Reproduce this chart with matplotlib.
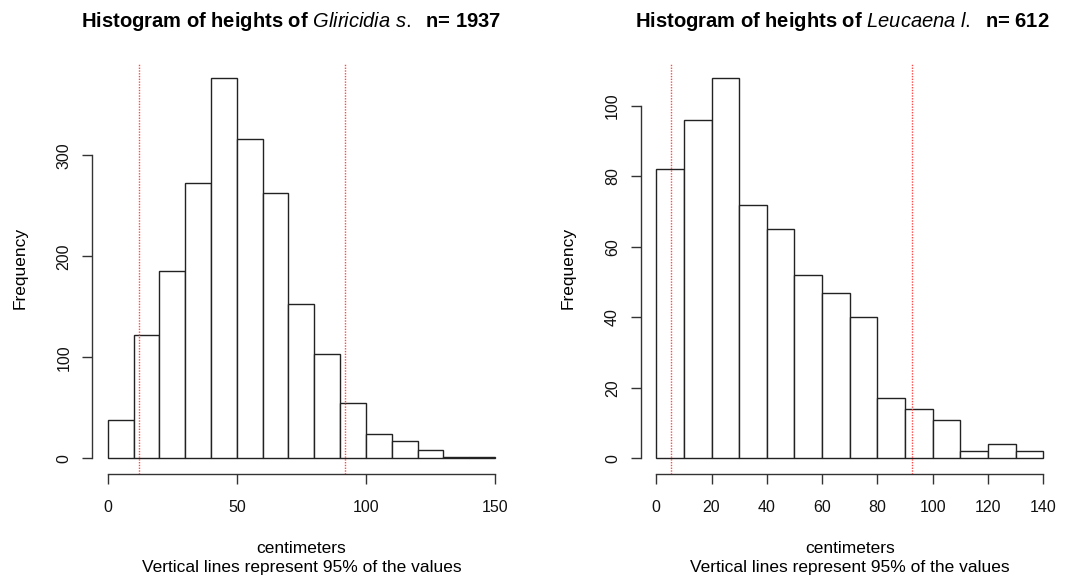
import matplotlib
matplotlib.use("Agg")
import matplotlib.pyplot as plt
import numpy as np

plt.rcParams['font.family'] = ['Liberation Sans', 'DejaVu Sans']
plt.rcParams['mathtext.fontset'] = 'custom'
plt.rcParams['mathtext.it'] = 'Liberation Sans:italic'
plt.rcParams['mathtext.rm'] = 'Liberation Sans'

# Data
gli_edges = [0, 10, 20, 30, 40, 50, 60, 70, 80, 90, 100, 110, 120, 130, 140, 150]
gli_counts = [38, 122, 186, 273, 377, 316, 263, 153, 103, 55, 24, 17, 8, 1, 1]
gli_lines = [12, 92]
gli_xticks = [0, 50, 100, 150]
gli_yticks = [0, 100, 200, 300]

leu_edges = [0, 10, 20, 30, 40, 50, 60, 70, 80, 90, 100, 110, 120, 130, 140]
leu_counts = [82, 96, 108, 72, 65, 52, 47, 40, 17, 14, 11, 2, 4, 2]
leu_lines = [5.3, 92.4]
leu_xticks = [0, 20, 40, 60, 80, 100, 120, 140]
leu_yticks = [0, 20, 40, 60, 80, 100]

W, H = 1072, 581
fig = plt.figure(figsize=(W / 100, H / 100), dpi=100)

top_px, bot_px = 62.5, 473.5

def make_axes(left_px, right_px):
    return fig.add_axes([left_px / W, 1 - bot_px / H,
                         (right_px - left_px) / W, (bot_px - top_px) / H])

panels = [
    (make_axes(92.2, 510.5), gli_edges, gli_counts, gli_lines, gli_xticks, gli_yticks,
     r"Histogram of heights of $\mathit{Gliricidia\ s.}$  n= 1937", 0.475),
    (make_axes(640.8, 1058.7), leu_edges, leu_counts, leu_lines, leu_xticks, leu_yticks,
     r"Histogram of heights of $\mathit{Leucaena\ l.}$  n= 612", 0.481),
]

for ax, edges, counts, vlines, xt, yt, title, tx in panels:
    edges = np.array(edges, dtype=float)
    widths = np.diff(edges)
    ax.bar(edges[:-1], counts, width=widths, align='edge',
           facecolor='white', edgecolor='#222222', linewidth=1.0, zorder=1)
    x0, x1 = edges[0], edges[-1]
    ymax = max(counts)
    ax.set_xlim(x0 - 0.04 * (x1 - x0), x1 + 0.04 * (x1 - x0))
    ax.set_ylim(-0.04 * ymax, 1.04 * ymax)
    for v in vlines:
        ax.axvline(v, color='#ff4a4a', linestyle=(0, (1.0, 1.0)), linewidth=1.0,
                   zorder=3)
    for s in ['top', 'right']:
        ax.spines[s].set_visible(False)
    ax.spines['bottom'].set_bounds(xt[0], xt[-1])
    ax.spines['left'].set_bounds(yt[0], yt[-1])
    for s in ['bottom', 'left']:
        ax.spines[s].set_linewidth(1.0)
        ax.spines[s].set_color('#333333')
    ax.set_xticks(xt)
    ax.set_yticks(yt)
    ax.set_yticklabels([str(v) for v in yt], rotation=90, va='center')
    ax.tick_params(axis='both', direction='out', length=7, width=1.0,
                   color='#333333', labelsize=11.5, labelcolor='#111111')
    ax.tick_params(axis='x', pad=12)
    ax.tick_params(axis='y', pad=8)
    ax.set_ylabel("Frequency", fontsize=12.5, labelpad=21)
    ax.set_xlabel("centimeters\nVertical lines represent 95% of the values",
                  fontsize=12.5, labelpad=19, linespacing=1.35)
    ax.set_title(title, fontsize=14.5, fontweight='bold', pad=25.5, x=tx)
    ax.patch.set_visible(False)

fig.savefig("out.png", dpi=100, facecolor='white')
